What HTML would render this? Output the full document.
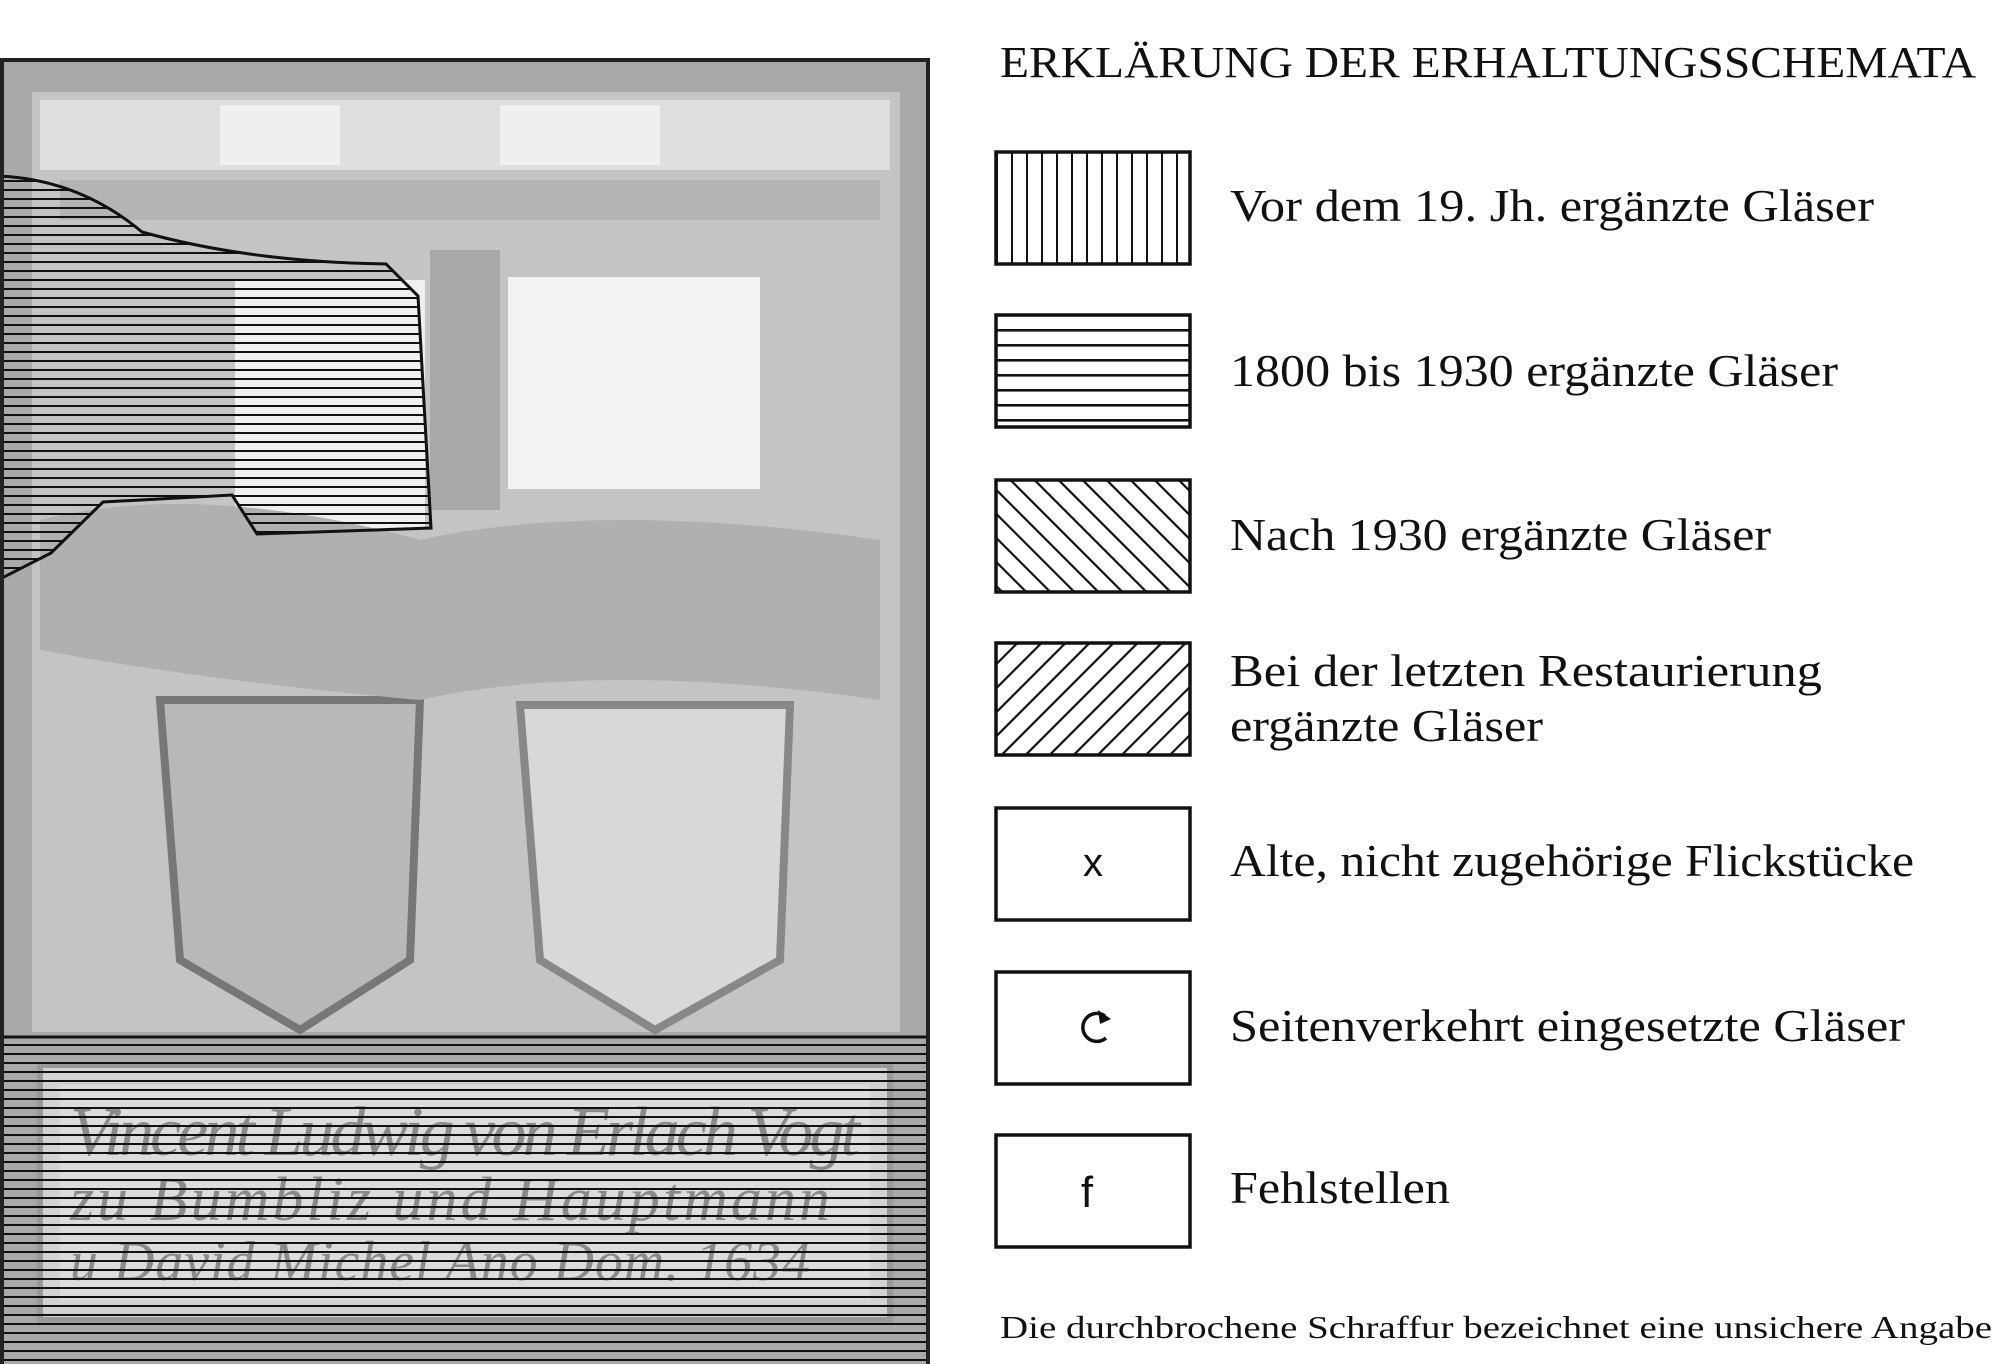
<!DOCTYPE html>
<html><head><meta charset="utf-8"><style>
html,body{margin:0;padding:0;background:#fff}
svg{display:block}
text{font-family:"Liberation Serif",serif;fill:#111}
</style></head><body>
<svg width="2008" height="1364" viewBox="0 0 2008 1364" xmlns="http://www.w3.org/2000/svg">
<defs>
<pattern id="hz" width="10" height="9" patternUnits="userSpaceOnUse"><rect x="0" y="0" width="10" height="2" fill="#111"/></pattern>
<pattern id="vt" width="15" height="10" patternUnits="userSpaceOnUse"><rect x="6" y="0" width="2" height="10" fill="#111"/></pattern>
<pattern id="hb" width="10" height="15" patternUnits="userSpaceOnUse" y="152"><rect x="0" y="12" width="10" height="2.6" fill="#111"/></pattern>
<pattern id="d1" width="17" height="17" patternUnits="userSpaceOnUse" patternTransform="rotate(-45)"><rect x="0" y="0" width="2.2" height="17" fill="#111"/></pattern>
<pattern id="d2" width="17" height="17" patternUnits="userSpaceOnUse" patternTransform="rotate(45)"><rect x="0" y="0" width="2.2" height="17" fill="#111"/></pattern>
</defs>

<!-- painting -->
<rect x="2" y="60" width="926" height="1304" fill="#a9a9a9"/>
<rect x="32" y="92" width="868" height="940" fill="#c4c4c4"/>
<rect x="40" y="100" width="850" height="70" fill="#dedede"/>
<rect x="220" y="105" width="120" height="60" fill="#efefef"/>
<rect x="500" y="105" width="160" height="60" fill="#efefef"/>
<rect x="60" y="180" width="820" height="40" fill="#b4b4b4"/>
<rect x="508" y="277" width="252" height="212" fill="#f2f2f2"/>
<rect x="235" y="280" width="190" height="250" fill="#f0f0f0"/>
<rect x="430" y="250" width="70" height="260" fill="#a8a8a8"/>
<path d="M160 700 L420 700 L410 960 L300 1030 L180 960 Z" fill="#b8b8b8" stroke="#777" stroke-width="8"/>
<path d="M520 705 L790 705 L780 960 L655 1030 L540 960 Z" fill="#d8d8d8" stroke="#888" stroke-width="8"/>
<path d="M40 520 Q200 480 420 540 Q600 500 880 540 L880 700 Q600 660 420 700 Q200 680 40 650 Z" fill="#b0b0b0"/>
<rect x="40" y="1065" width="850" height="255" fill="#d2d2d2" stroke="#999" stroke-width="6"/>
<rect x="60" y="1085" width="810" height="215" fill="#dcdcdc"/>
<text x="70" y="1155" font-size="70" style="font-style:italic;fill:#8a8a8a" textLength="790">Vincent Ludwig von Erlach Vogt</text>
<text x="70" y="1220" font-size="62" style="font-style:italic;fill:#8a8a8a" textLength="760">zu Bumbliz und Hauptmann</text>
<text x="70" y="1280" font-size="56" style="font-style:italic;fill:#8a8a8a" textLength="740">u David Michel Ano Dom. 1634</text>

<!-- hatched regions -->
<path d="M0 176 Q80 180 142 232 Q250 262 386 264 L418 296 L431 528 L257 534 L232 495 L103 502 L51 553 L0 579 Z" fill="url(#hz)" stroke="#111" stroke-width="3"/>
<rect x="2" y="1037" width="926" height="327" fill="url(#hz)"/>
<line x1="2" y1="1037" x2="928" y2="1037" stroke="#111" stroke-width="3"/>
<rect x="2" y="60" width="926" height="1306" fill="none" stroke="#222" stroke-width="4"/>

<!-- legend -->
<text x="1000" y="77" font-size="44" textLength="976" lengthAdjust="spacingAndGlyphs">ERKLÄRUNG DER ERHALTUNGSSCHEMATA</text>

<g stroke="#111" stroke-width="3.5">
<rect x="996" y="152" width="194" height="112" fill="url(#vt)"/>
<rect x="996" y="315" width="194" height="112" fill="url(#hb)"/>
<rect x="996" y="480" width="194" height="112" fill="url(#d1)"/>
<rect x="996" y="643" width="194" height="112" fill="url(#d2)"/>
<rect x="996" y="808" width="194" height="112" fill="#fff"/>
<rect x="996" y="972" width="194" height="112" fill="#fff"/>
<rect x="996" y="1135" width="194" height="112" fill="#fff"/>
</g>
<text x="1093" y="876" font-size="40" text-anchor="middle" style="font-family:'Liberation Sans',sans-serif">x</text>
<path d="M1105 1016 A14 14 0 1 0 1106 1038" fill="none" stroke="#111" stroke-width="3.5"/>
<path d="M1098 1010 L1111 1019 L1100 1024 Z" fill="#111"/>
<text x="1087" y="1207" font-size="44" text-anchor="middle" style="font-family:'Liberation Sans',sans-serif">f</text>

<g font-size="46">
<text x="1230" y="221" textLength="644" lengthAdjust="spacingAndGlyphs">Vor dem 19. Jh. ergänzte Gläser</text>
<text x="1230" y="386" textLength="608" lengthAdjust="spacingAndGlyphs">1800 bis 1930 ergänzte Gläser</text>
<text x="1230" y="550" textLength="541" lengthAdjust="spacingAndGlyphs">Nach 1930 ergänzte Gläser</text>
<text x="1230" y="686" textLength="592" lengthAdjust="spacingAndGlyphs">Bei der letzten Restaurierung</text>
<text x="1230" y="741" textLength="313" lengthAdjust="spacingAndGlyphs">ergänzte Gläser</text>
<text x="1230" y="876" textLength="684" lengthAdjust="spacingAndGlyphs">Alte, nicht zugehörige Flickstücke</text>
<text x="1230" y="1041" textLength="675" lengthAdjust="spacingAndGlyphs">Seitenverkehrt eingesetzte Gläser</text>
<text x="1230" y="1203" textLength="220" lengthAdjust="spacingAndGlyphs">Fehlstellen</text>
</g>
<text x="1000" y="1338" font-size="32" textLength="992" lengthAdjust="spacingAndGlyphs">Die durchbrochene Schraffur bezeichnet eine unsichere Angabe</text>
</svg>
</body></html>
